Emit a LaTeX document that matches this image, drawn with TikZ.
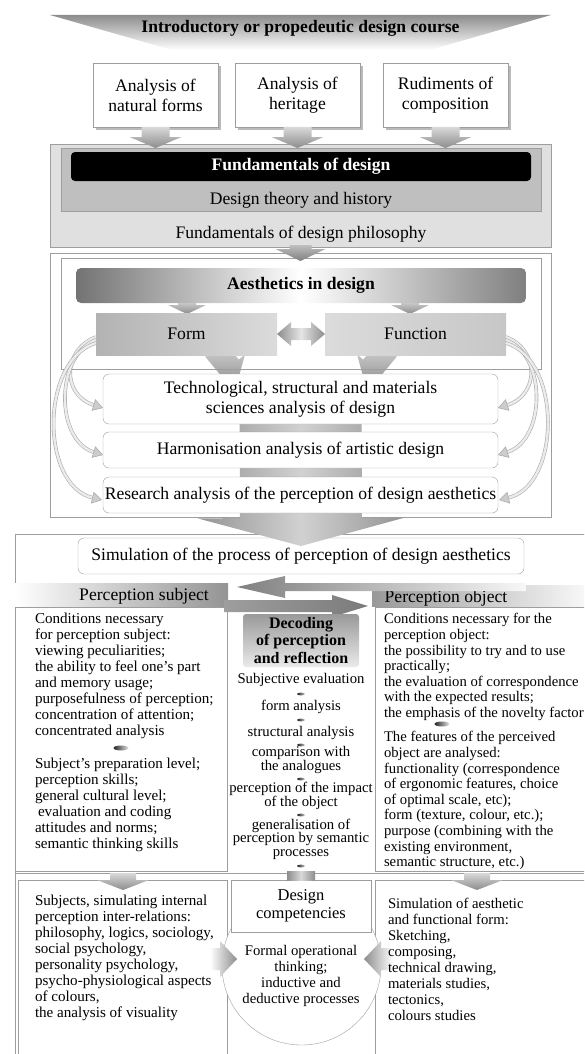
\documentclass[tikz,border=0pt]{standalone}
\usepackage{fontspec}
\setmainfont{Liberation Serif}
\usetikzlibrary{calc,shadows,arrows.meta,shapes.geometric}
\pgfdeclarelayer{bg}
\pgfsetlayers{bg,main}
\newcommand{\fatarr}[6]{%
  \coordinate (fas) at (#1);%
  \coordinate (fae) at (#2);%
  \coordinate (fah) at ($(fae)!#5!(fas)$);%
  \path[#6] ($(fas)!#3!90:(fae)$) -- ($(fah)!#3!90:(fae)$) -- ($(fah)!#4!90:(fae)$) -- (fae) -- ($(fah)!#4!-90:(fae)$) -- ($(fah)!#3!-90:(fae)$) -- ($(fas)!#3!-90:(fae)$) -- cycle;}
\begin{document}
\begin{tikzpicture}[x=1pt,y=-1pt,
  bigf/.style={font=\fontsize{17.6}{20}\selectfont},
  bigb/.style={font=\fontsize{17.6}{20}\selectfont\bfseries},
  bodyf/.style={font=\fontsize{14.7}{16}\selectfont},
  bodyr/.style={font=\fontsize{14.7}{15.6}\selectfont},
  bodyl/.style={font=\fontsize{15.1}{16}\selectfont},
  tightf/.style={font=\fontsize{14.7}{13.5}\selectfont},
  bline/.style={draw=black!38},
  pln/.style={inner sep=0pt, outer sep=0pt},
  topbox/.style={bline, fill=white, minimum width=125pt, minimum height=64pt, pln, align=center, bigf,
     drop shadow={shadow xshift=3pt, shadow yshift=-3pt, fill=black!45, opacity=.6}},
  rbox/.style={bline, fill=white, rounded corners=6pt, minimum width=395pt, pln, align=center, bigf},
  curv/.style={draw=black!32, double=black!8, double distance=2.4pt, line width=0.6pt,
     -{Triangle[width=12pt,length=10pt,fill=black!20]}},
  dbul/.style={ellipse, pln, minimum width=8pt, minimum height=2.8pt, left color=black!90, right color=black!20},
  bul/.style={ellipse, pln, minimum width=15pt, minimum height=5pt, left color=black!85, right color=black!10},
  txtl/.style={bodyf, anchor=north west, align=left, pln},
  txtr/.style={bodyr, anchor=north west, align=left, pln},
  txtlb/.style={bodyl, anchor=north west, align=left, pln},
]
\useasboundingbox (0,0) rectangle (584,1054);
\clip (0,0) rectangle (584,1054);

% ---------- banner
\path[top color=black!45, bottom color=white] (50,15) -- (551,15) -- (430,50) -- (172,50) -- cycle;
\node[bigb] (banner) at (300.5,28) {Introductory or propedeutic design course};

% ---------- three starting boxes
\node[topbox] (nat) at (155.5,95) {Analysis of\\natural forms};
\node[topbox] (her) at (297.5,95) {Analysis of\\heritage};
\node[topbox] (rud) at (445.5,95) {Rudiments of\\composition};

% ---------- fundamentals
\node[bline, fill=black!12, minimum width=501pt, minimum height=103pt, pln] (fundbox) at (300.5,195.5) {};
\node[bline, fill=black!25, minimum width=480pt, minimum height=63pt, pln] (theorybox) at (301,179.5) {};
\node[fill=black, rounded corners=4pt, minimum width=460pt, minimum height=29pt, pln, text=white, bigb] (fund) at (301,166.5) {Fundamentals of design};
\node[bigf] (theory) at (301,200) {Design theory and history};
\node[bigf] (philo) at (301,234) {Fundamentals of design philosophy};
\foreach \n in {nat,her,rud}
  \fatarr{\n.south}{$(\n.south)+(0,21)$}{14pt}{26pt}{11pt}{top color=black!15, bottom color=black!45};

% ---------- aesthetics frame
\node[bline, minimum width=501pt, minimum height=264pt, pln] (aesout) at (300.5,385) {};
\node[bline, minimum width=480pt, minimum height=111pt, pln] (aesin) at (301,313.5) {};
\fatarr{$(fundbox.south)+(0,-2)$}{$(fundbox.south)+(0,14)$}{11pt}{25pt}{12pt}{top color=black!25, bottom color=black!50};

% ---------- lower frame and simulation box
\node[bline, anchor=north west, minimum width=600pt, minimum height=540pt, pln] (lowbox) at (15,534) {};
\node[bline, fill=white, rounded corners=6pt, minimum width=446pt, minimum height=36pt, pln, bigf] (sim) at (301,556) {Simulation of the process of perception of design aesthetics};

% big arrow through the analysis boxes
\fatarr{aesout.center}{$(sim.north)+(0,8)$}{61pt}{103.5pt}{28pt}{left color=black!42, right color=black!42, middle color=black!18};

% ---------- analysis boxes
\node[rbox, minimum height=50pt] (tech) at (300.5,399) {Technological, structural and materials\\sciences analysis of design};
\node[rbox, minimum height=36pt] (harm) at (300.5,450) {Harmonisation analysis of artistic design};
\node[rbox, minimum height=36pt] (res) at (300.5,495) {Research analysis of the perception of design aesthetics};

% ---------- aesthetics bar, form, function
\node[rounded corners=5pt, minimum width=450pt, minimum height=35pt, pln, left color=black!55, right color=black!50, middle color=white, bigb] (aes) at (301,285.5) {Aesthetics in design};
\fatarr{$(aes.south)+(-114,0)$}{$(aes.south)+(-114,11)$}{9pt}{19pt}{9pt}{top color=black!22, bottom color=black!45};
\fatarr{$(aes.south)+(109,0)$}{$(aes.south)+(109,11)$}{9pt}{19pt}{9pt}{top color=black!22, bottom color=black!45};
\node[minimum width=181pt, minimum height=42pt, pln, left color=black!30, right color=black!14, bigf] (form) at (186.5,334) {Form};
\node[minimum width=181pt, minimum height=42pt, pln, left color=black!14, right color=black!22, bigf] (func) at (415.5,334) {Function};
\path[left color=black!45, right color=black!45, middle color=black!10]
  (form.east) -- ++(14,-12) -- ++(0,6) -- ($(func.west)+(-14,-6)$) -- ++(0,-6) -- (func.west)
  -- ++(-14,12) -- ++(0,-6) -- ($(form.east)+(14,6)$) -- ++(0,6) -- cycle;
\begin{pgfonlayer}{bg}
\fatarr{$(form.south)+(28,-6)$}{$(tech.north)+(-62,4)$}{12pt}{20pt}{14pt}{top color=black!15, bottom color=black!40};
\fatarr{$(func.south)+(-28,-6)$}{$(tech.north)+(63,4)$}{12pt}{20pt}{14pt}{top color=black!15, bottom color=black!40};
\end{pgfonlayer}

% curved arrows
\draw[curv] ($(form.west)+(0,3)$) .. controls +(-34,13) and +(-41,-13) .. ($(tech.west)+(0,9)$);
\draw[curv] ($(form.west)+(0,6)$) .. controls +(-41,15) and +(-48,-15) .. ($(harm.west)+(0,5)$);
\draw[curv] ($(form.west)+(0,9)$) .. controls +(-56,17) and +(-62,-15) .. ($(res.west)+(-1,5)$);
\draw[curv] ($(func.east)+(0,3)$) .. controls +(34,13) and +(41,-13) .. ($(tech.east)+(0,9)$);
\draw[curv] ($(func.east)+(0,6)$) .. controls +(41,15) and +(48,-15) .. ($(harm.east)+(0,5)$);
\draw[curv] ($(func.east)+(0,9)$) .. controls +(56,17) and +(62,-15) .. ($(res.east)+(1,5)$);

% ---------- perception columns
\node[bline, anchor=north west, minimum width=212pt, minimum height=264pt, pln] (lcol) at (15,607) {};
\node[bline, anchor=north west, minimum width=230pt, minimum height=264pt, pln] (rcol) at (375,607) {};
\node[anchor=north west, minimum width=213pt, minimum height=23pt, pln, left color=white, right color=black!42] (subjhead) at (15,583) {};
\node[anchor=north west, minimum width=230pt, minimum height=21pt, pln, left color=black!40, right color=white] (objhead) at (372,585) {};
\node[bigf] (subjtxt) at (144,596) {Perception subject};
\node[bigf] (objtxt) at (446,598) {Perception object};
\fatarr{$(subjhead.north east)+(298,4)$}{$(subjhead.north east)+(9,4)$}{4pt}{11pt}{48pt}{left color=black!50, right color=black!3};
\fatarr{$(subjhead.south east)+(-4,0)$}{$(objhead.south west)+(-4,0)$}{6pt}{11pt}{36pt}{left color=black!38, right color=black!52};

\node[txtlb] (lt1) at (35,613.5) {Conditions necessary\\for perception subject:\\viewing peculiarities;\\the ability to feel one's part\\and memory usage;\\purposefulness of perception;\\concentration of attention;\\concentrated analysis};
\node[bul] (lb) at (121,748) {};
\node[txtlb] (lt2) at (35,758.5) {Subject's preparation level;\\perception skills;\\general cultural level;\\\hspace*{3pt}evaluation and coding\\attitudes and norms;\\semantic thinking skills};

\node[txtr] (rt1) at (384,613.5) {Conditions necessary for the\\perception object:\\the possibility to try and to use\\practically;\\the evaluation of correspondence\\with the expected results;\\the emphasis of the novelty factor};
\node[bul] (rb) at (442,724) {};
\node[txtr] (rt2) at (384,731.5) {The features of the perceived\\object are analysed:\\functionality (correspondence\\of ergonomic features, choice\\of optimal scale, etc);\\form (texture, colour, etc.);\\purpose (combining with the\\existing environment,\\semantic structure, etc.)};

% middle column
\node[rounded corners=3pt, minimum width=116pt, minimum height=53pt, pln, top color=black!40, bottom color=black!8, align=center, font=\fontsize{16}{17.3}\selectfont\bfseries] (decod) at (301,640.5) {Decoding\\of perception\\and reflection};
\node[bodyf] (m1) at (301,680) {Subjective evaluation};
\node[dbul] (d1) at (301,694) {};
\node[bodyf] (m2) at (301,707) {form analysis};
\node[dbul] (d2) at (301,720) {};
\node[bodyf] (m3) at (301,733) {structural analysis};
\node[dbul] (d3) at (301,745) {};
\node[tightf, align=center] (m4) at (301,760) {comparison with\\the analogues};
\node[dbul] (d4) at (301,779) {};
\node[tightf, align=center] (m5) at (301,796) {perception of the impact\\of the object};
\node[dbul] (d5) at (301,815) {};
\node[tightf, align=center] (m6) at (301,839) {generalisation of\\perception by semantic\\processes};
\node[dbul] (d6) at (301,866) {};

% ---------- bottom row
\coordinate (sepL) at (15,873.5);
\coordinate (sepR) at (584,873.5);
\draw[bline] (sepL) -- (sepR);
\node[bline, anchor=north west, minimum width=209pt, minimum height=190pt, pln] (blbox) at (18,880) {};
\node[bline, anchor=north west, minimum width=230pt, minimum height=190pt, pln] (brbox) at (375,880) {};
\fatarr{$(lcol.south)+(2,2)$}{$(lcol.south)+(2,19)$}{13pt}{26pt}{10pt}{top color=black!15, bottom color=black!45};
\fatarr{$(rcol.south)+(-13,2)$}{$(rcol.south)+(-13,19)$}{13pt}{26pt}{10pt}{top color=black!15, bottom color=black!45};
\node[circle, bline, fill=white, minimum size=159pt, pln] (circ) at (301.5,965.5) {};
\node[bline, fill=white, minimum width=140pt, minimum height=52pt, pln, align=center, font=\fontsize{16.5}{18.5}\selectfont] (dcomp) at (301,906) {Design\\competencies};
\node[minimum width=28pt, minimum height=9pt, pln, left color=black!45, right color=black!45, middle color=black!15] (midbar) at (301,875.5) {};
\node[bodyf, align=center, pln] (ctext) at (301,976) {Formal operational\\thinking;\\inductive and\\deductive processes};
\fatarr{$(circ.west)+(-12,-6.5)$}{$(circ.west)+(15,-6.5)$}{11pt}{18pt}{17pt}{left color=white, right color=black!45};
\fatarr{$(circ.east)+(12,-6.5)$}{$(circ.east)+(-17,-6.5)$}{11pt}{18pt}{17pt}{left color=black!45, right color=white};

\node[txtlb] (bt1) at (35,895.5) {Subjects, simulating internal\\perception inter-relations:\\philosophy, logics, sociology,\\social psychology,\\personality psychology,\\psycho-physiological aspects\\of colours,\\the analysis of visuality};
\node[txtl] (bt2) at (388,898) {Simulation of aesthetic\\and functional form:\\Sketching,\\composing,\\technical drawing,\\materials studies,\\tectonics,\\colours studies};
\end{tikzpicture}
\end{document}
